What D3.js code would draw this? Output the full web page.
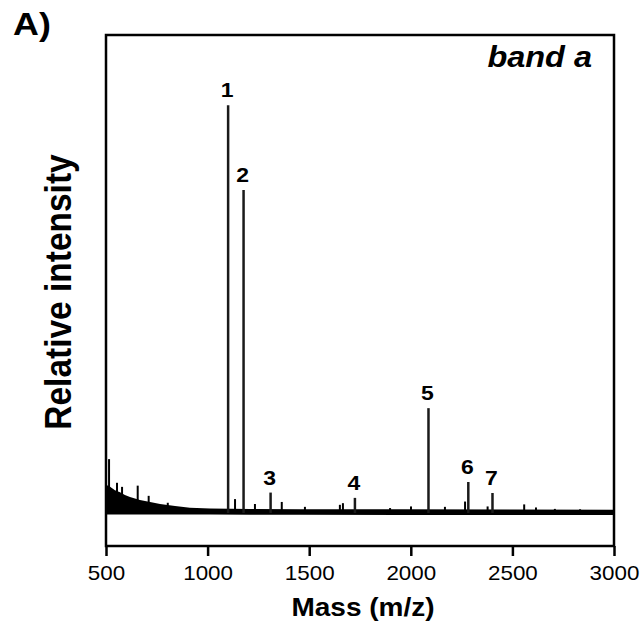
<!DOCTYPE html>
<html>
<head>
<meta charset="utf-8">
<script src="https://cdn.jsdelivr.net/npm/d3@7/dist/d3.min.js"></script>
<style>
  html, body { margin: 0; padding: 0; background: #ffffff; }
  svg { display: block; }
  text { font-family: "Liberation Sans", Arial, Helvetica, sans-serif; fill: #000; }
</style>
</head>
<body>
<div id="chart"></div>
<script>
// ---------- data ----------
const xTicks = [500, 1000, 1500, 2000, 2500, 3000];

// labelled peaks: m/z and relative intensity
const peakLabels = ["1", "2", "3", "4", "5", "6", "7"];
const peakMass = [1101, 1177, 1310, 1725, 2087, 2283, 2402];
const peakIntensity = [100, 79.2, 5.0, 3.7, 25.7, 7.6, 4.9];

// minor unlabelled peaks
const minorMass = [515, 554, 579, 656, 710, 804, 1135, 1233, 1365, 1479, 1651, 1666,
                   1898, 2001, 2168, 2267, 2378, 2558, 2616, 2709, 2833];
const minorIntensity = [13.2, 7.4, 6.4, 6.7, 4.2, 2.5, 3.4, 2.2, 2.7, 1.5, 2.0, 2.4,
                        1.2, 1.6, 1.5, 2.8, 1.6, 2.1, 1.35, 1.0, 0.9];

// noise band envelope (upper / lower intensity)
const bandMass  = [500, 520, 544, 569, 593, 618, 667, 717, 766, 840, 913, 1012, 1209, 1455, 1947, 2500, 3000];
const bandUpper = [6.9, 6.4, 5.6, 5.1, 4.4, 3.9, 3.2, 2.7, 2.2, 1.7, 1.3, 1.1, 1.0, 0.9, 0.9, 0.85, 0.8];
const bandLower = [-0.4, -0.4, -0.4, -0.4, -0.4, -0.4, -0.4, -0.4, -0.4, -0.4, -0.4, -0.4, -0.45, -0.45, -0.5, -0.5, -0.5];

// ---------- layout ----------
const W = 642, H = 626;
const mLeft = 106, mRight = 614, mTop = 35, mBottom = 546;
const SX = 1.12; // horizontal stretch of the original figure's lettering

const svg = d3.select("#chart").append("svg").attr("width", W).attr("height", H);

const x = d3.scaleLinear().domain([500, 3000]).range([mLeft, mRight]);
const y = d3.scaleLinear().domain([-8.1, 117.2]).range([mBottom, mTop]);

// noise band
const band = bandMass.map((m, i) => ({ m, u: bandUpper[i], l: bandLower[i] }));
svg.append("path")
  .datum(band)
  .attr("d", d3.area().x(d => x(d.m)).y0(d => y(d.l)).y1(d => y(d.u)))
  .attr("fill", "#000");

// minor peaks
svg.append("g").selectAll("line")
  .data(minorMass.map((m, i) => ({ m, v: minorIntensity[i] })))
  .join("line")
  .attr("x1", d => x(d.m)).attr("x2", d => x(d.m))
  .attr("y1", y(0)).attr("y2", d => y(d.v))
  .attr("stroke", "#000").attr("stroke-width", 2);

// main peaks
const peaks = peakMass.map((m, i) => ({ m, v: peakIntensity[i], label: peakLabels[i] }));
svg.append("g").selectAll("line")
  .data(peaks)
  .join("line")
  .attr("x1", d => x(d.m)).attr("x2", d => x(d.m))
  .attr("y1", y(0)).attr("y2", d => y(d.v))
  .attr("stroke", "#1a1a1a").attr("stroke-width", 2.5);

// peak labels
svg.append("g").selectAll("g")
  .data(peaks)
  .join("g")
  .attr("transform", d => `translate(${x(d.m) - 1},${y(d.v) - 8}) scale(${SX},1)`)
  .append("text")
  .attr("text-anchor", "middle")
  .attr("font-size", 20.5)
  .attr("font-weight", "bold")
  .text(d => d.label);

// frame
svg.append("rect")
  .attr("x", mLeft).attr("y", mTop)
  .attr("width", mRight - mLeft).attr("height", mBottom - mTop)
  .attr("fill", "none").attr("stroke", "#000").attr("stroke-width", 2.5);

// x axis
const ax = svg.append("g")
  .attr("transform", `translate(0,${mBottom})`)
  .call(d3.axisBottom(x).tickValues(xTicks).tickSize(10).tickPadding(4).tickFormat(d3.format("d")));
ax.select(".domain").remove();
ax.selectAll(".tick line").attr("stroke", "#000").attr("stroke-width", 2.5);
ax.selectAll(".tick text")
  .attr("font-size", 20)
  .attr("font-family", "Liberation Sans, Arial, sans-serif")
  .attr("fill", "#000")
  .attr("y", 0).attr("dy", 0)
  .attr("transform", `translate(0,34) scale(${SX},1)`);

// x axis title
svg.append("g")
  .attr("transform", `translate(363,616) scale(${SX},1)`)
  .append("text")
  .attr("text-anchor", "middle")
  .attr("font-size", 25)
  .attr("font-weight", "bold")
  .text("Mass (m/z)");

// y axis title
svg.append("g")
  .attr("transform", `translate(71,292) rotate(-90) scale(1,${SX})`)
  .append("text")
  .attr("text-anchor", "middle")
  .attr("font-size", 33.5)
  .attr("font-weight", "bold")
  .text("Relative intensity");

// panel letter
svg.append("g")
  .attr("transform", `translate(13,35) scale(${SX},1)`)
  .append("text")
  .attr("font-size", 32)
  .attr("font-weight", "bold")
  .text("A)");

// band label
svg.append("g")
  .attr("transform", `translate(592,67) scale(${SX},1)`)
  .append("text")
  .attr("text-anchor", "end")
  .attr("font-size", 29)
  .attr("font-weight", "bold")
  .attr("font-style", "italic")
  .text("band a");
</script>
</body>
</html>
